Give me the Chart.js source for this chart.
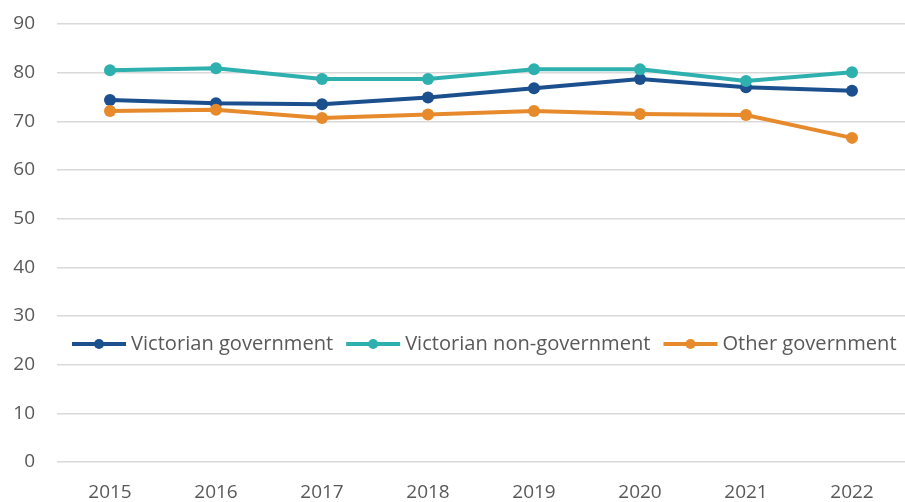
<!DOCTYPE html>
<html>
<head>
<meta charset="utf-8">
<script src="https://cdn.jsdelivr.net/npm/chart.js@4/dist/chart.umd.min.js"></script>
<style>
  html, body { margin: 0; padding: 0; background: #fff; overflow: hidden; }
  /* a bit wider than the window so the plot reaches the right edge */
  #wrap { width: 911px; height: 502px; position: relative; }
</style>
</head>
<body>
<div id="wrap"><canvas id="chart"></canvas></div>
<script>
/* DATA */
const years = ['2015', '2016', '2017', '2018', '2019', '2020', '2021', '2022'];
const vicGov = [74.4, 73.7, 73.5, 74.9, 76.8, 78.7, 77.0, 76.3];
const vicNonGov = [80.5, 80.9, 78.7, 78.7, 80.7, 80.7, 78.3, 80.1];
const otherGov = [72.1, 72.4, 70.7, 71.4, 72.1, 71.5, 71.3, 66.6];
const seriesNames = ['Victorian government', 'Victorian non-government', 'Other government'];

/* COLORS */
const navy = '#1b4f8e';
const teal = '#2eb0ae';
const orange = '#e68a2c';
const gridGrey = '#d9d9d9';
const textGrey = '#595959';
const fontFamily = '"Open Sans", "Noto Sans", sans-serif';

/* LEGEND INSIDE PLOT */
const insideLegend = {
  id: 'insideLegend',
  afterDraw(chart) {
    const ctx = chart.ctx;
    const y = 344;
    let x = 72;
    ctx.save();
    ctx.font = '20.1px ' + fontFamily;
    ctx.textBaseline = 'middle';
    chart.data.datasets.forEach((ds) => {
      ctx.strokeStyle = ds.borderColor;
      ctx.lineWidth = 4;
      ctx.beginPath();
      ctx.moveTo(x, y);
      ctx.lineTo(x + 54, y);
      ctx.stroke();
      ctx.fillStyle = ds.borderColor;
      ctx.beginPath();
      ctx.arc(x + 27, y, 5, 0, Math.PI * 2);
      ctx.fill();
      ctx.fillStyle = textGrey;
      ctx.fillText(ds.label, x + 59, y);
      x += 59 + ctx.measureText(ds.label).width + 13;
    });
    ctx.restore();
  },
};

function line(label, data, color, order) {
  return {
    label,
    data,
    borderColor: color,
    backgroundColor: color,
    borderWidth: 4,
    pointRadius: 6,
    pointHoverRadius: 6,
    pointBackgroundColor: color,
    pointBorderWidth: 0,
    tension: 0,
    order,
  };
}

new Chart(document.getElementById('chart'), {
  type: 'line',
  data: {
    labels: years,
    datasets: [
      line(seriesNames[0], vicGov, navy, 3),
      line(seriesNames[1], vicNonGov, teal, 2),
      line(seriesNames[2], otherGov, orange, 1),
    ],
  },
  options: {
    responsive: true,
    maintainAspectRatio: false,
    animation: false,
    layout: { padding: { top: 24, right: 0, bottom: 0, left: 0 } },
    plugins: {
      legend: { display: false },
      tooltip: { enabled: false },
    },
    scales: {
      x: {
        offset: true,
        grid: { display: false, drawTicks: false },
        border: { display: false },
        ticks: { color: textGrey, font: { family: fontFamily, size: 19 }, padding: 19, maxRotation: 0 },
        afterFit(scale) {
          scale.height = 40;
          scale.paddingLeft = 0;
          scale.paddingRight = 0;
        },
      },
      y: {
        min: 0,
        max: 90,
        grid: { color: gridGrey, lineWidth: 1.6, drawTicks: false },
        border: { display: false },
        ticks: { stepSize: 10, color: textGrey, font: { family: fontFamily, size: 19 }, padding: 22 },
        afterFit(scale) {
          scale.width = 57;
          scale.paddingTop = 0;
          scale.paddingBottom = 0;
        },
      },
    },
  },
  plugins: [insideLegend],
});
</script>
</body>
</html>
